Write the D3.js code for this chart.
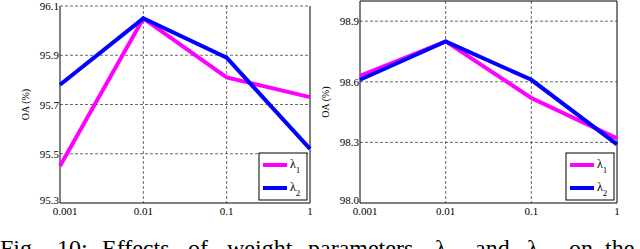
<!DOCTYPE html>
<html>
<head>
  <meta charset="utf-8">
  <script src="https://d3js.org/d3.v7.min.js"></script>
  <style>
    body{ margin:0; background:#fff; }
    svg text{ font-family: "Liberation Serif", "DejaVu Serif", "Times New Roman", Times, serif; fill:#000; }
    .grid line{ stroke:#444; stroke-dasharray: 3,2; stroke-width: 0.8; }
    .frame{ fill:none; stroke:#000; stroke-width: 1; }
    .caption{ font-size: 24px; }
  </style>
</head>
<body>
<script>

  var width = 640, height = 249;
  var serif = '"Liberation Serif", "DejaVu Serif", serif';

  // x values (log axis)
  var params = [0.001, 0.01, 0.1, 1];
  var xTickLabels = ['0.001', '0.01', '0.1', '1'];

  // left panel
  var leftL1 = [95.45, 96.05, 95.81, 95.73];
  var leftL2 = [95.78, 96.05, 95.89, 95.52];
  var leftTicks = [95.3, 95.5, 95.7, 95.9, 96.1];

  // right panel
  var rightL1 = [98.63, 98.80, 98.52, 98.32];
  var rightL2 = [98.61, 98.80, 98.61, 98.29];
  var rightTicks = [98.0, 98.3, 98.6, 98.9];

  var seriesNames = ['\u03bb', '\u03bb'];
  var seriesSubs = ['1', '2'];
  var colours = ['#ff00ff', '#0000ff'];

  var svg = d3.select('body').append('svg')
    .attr('width', width)
    .attr('height', height)
    .attr('font-family', serif);

  function panel(box, domain, ticks, s1, s2) {
    var g = svg.append('g');

    var x = d3.scaleLog().domain([0.001, 1]).range([box.left, box.right]);
    var y = d3.scaleLinear().domain(domain).range([box.bottom, box.top]);

    // grid
    var grid = g.append('g').attr('class', 'grid');
    grid.selectAll('line.v')
      .data(params.slice(1, 3))
      .enter().append('line')
      .attr('x1', d => x(d)).attr('x2', d => x(d))
      .attr('y1', box.top).attr('y2', box.bottom);
    grid.selectAll('line.h')
      .data(ticks.filter(t => t > domain[0]))
      .enter().append('line')
      .attr('x1', box.left).attr('x2', box.right)
      .attr('y1', d => y(d)).attr('y2', d => y(d));

    // frame
    var solidTop = y(domain[1]) < y(ticks[ticks.length-1]) - 1;
    g.append('path')
      .attr('class', 'frame')
      .attr('d', solidTop
        ? `M${box.left},${box.top}H${box.right}V${box.bottom}H${box.left}Z`
        : `M${box.left},${box.top}V${box.bottom}H${box.right}V${box.top}`);

    // y tick labels
    g.selectAll('text.ylab')
      .data(ticks)
      .enter().append('text')
      .attr('class', 'ylab')
      .attr('font-family', serif)
      .style('font-size', '11px')
      .attr('x', box.left - 1)
      .attr('y', (d, i) => y(d) + (i == 0 ? 1 : 4))
      .style('text-anchor', 'end')
      .text(d => d.toFixed(1));

    // x tick labels
    g.selectAll('text.xlab')
      .data(params)
      .enter().append('text')
      .attr('class', 'xlab')
      .attr('font-family', serif)
      .style('font-size', '11px')
      .attr('x', (d, i) => x(d) + (i == 0 ? 5 : 0))
      .attr('y', box.bottom + 12)
      .style('text-anchor', 'middle')
      .text((d, i) => xTickLabels[i]);

    // y title
    g.append('text')
      .attr('transform', `translate(${box.left - 31},${(box.top + box.bottom)/2}) rotate(-90)`)
      .attr('font-family', serif)
      .style('font-size', '10px')
      .style('text-anchor', 'middle')
      .text('OA (%)');

    // lines
    var line = d3.line().x((d, i) => x(params[i])).y(d => y(d));
    [s1, s2].forEach((s, k) => {
      g.append('path')
        .datum(s)
        .attr('d', line)
        .attr('fill', 'none')
        .attr('stroke', colours[k])
        .attr('stroke-width', 4)
        .attr('stroke-linejoin', 'miter');
    });

    // legend
    var lg = g.append('g').attr('transform', `translate(${box.right - 51},${box.bottom - 50})`);
    lg.append('rect')
      .attr('x', 0).attr('y', 0).attr('width', 48).attr('height', 47)
      .attr('fill', '#fff').attr('stroke', '#000').attr('stroke-width', 1);
    seriesNames.forEach((n, k) => {
      var yy = 12 + k * 23;
      lg.append('line')
        .attr('x1', 4).attr('x2', 28)
        .attr('y1', yy).attr('y2', yy)
        .attr('stroke', colours[k]).attr('stroke-width', 4);
      var t = lg.append('text')
        .attr('font-family', serif)
        .attr('x', 31).attr('y', yy + 3)
        .style('font-size', '12px');
      t.append('tspan').text(n);
      t.append('tspan').attr('dy', 5).style('font-size', '9px').text(seriesSubs[k]);
    });
  }

  panel({left: 60, right: 310, top: 6, bottom: 203}, [95.3, 96.1], leftTicks, leftL1, leftL2);
  panel({left: 360, right: 617, top: 1, bottom: 203}, [98.0, 99.0], rightTicks, rightL1, rightL2);

  // caption (cut off at bottom, justified)
  var capWords = ['Fig.', '10:', 'Effects', 'of', 'weight', 'parameters', '\u03bb', 'and', '\u03bb', 'on', 'the'];
  var capSubs  = ['', '', '', '', '', '', '1', '', '2', '', ''];
  var capX = [0, 57, 102, 188, 227, 308, 435, 475, 527, 569, 605];
  svg.selectAll('text.caption')
    .data(capWords)
    .enter().append('text')
    .attr('class', 'caption')
    .attr('font-family', serif)
    .attr('x', (d, i) => capX[i])
    .attr('y', 256)
    .each(function(d, i) {
      var t = d3.select(this);
      t.append('tspan').text(d);
      if (capSubs[i]) t.append('tspan').attr('dy', 5).style('font-size', '16px').text(capSubs[i]);
    });

</script>
</body>
</html>
